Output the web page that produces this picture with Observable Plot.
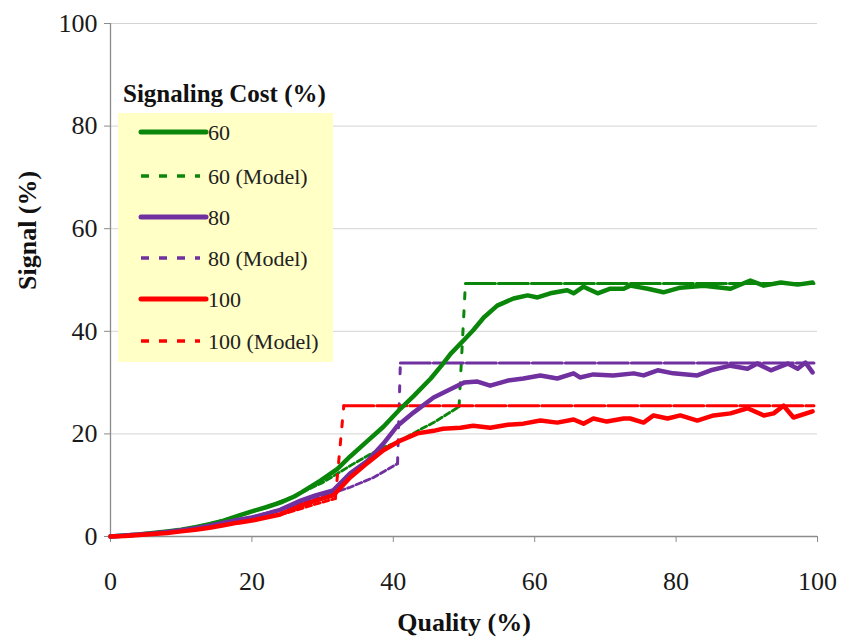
<!DOCTYPE html>
<html>
<head>
<meta charset="utf-8">
<script src="https://cdn.jsdelivr.net/npm/d3@7"></script>
<script src="https://cdn.jsdelivr.net/npm/@observablehq/plot@0.6"></script>
<style>
  html, body { margin: 0; padding: 0; background: #fff; }
  #wrap { position: relative; width: 843px; height: 638px; font-family: 'Liberation Serif', 'Times New Roman', serif; }
  #wrap svg text { font-family: 'Liberation Serif', 'Times New Roman', serif; }
  #legend { position: absolute; left: 0; top: 0; pointer-events: none; }
</style>
</head>
<body>
<div id="wrap"></div>
<script>
// ---- Data ----
const xTicks = [0, 20, 40, 60, 80, 100];
const yTicks = [0, 20, 40, 60, 80, 100];
const gridTicks = [20, 40, 60, 80, 100];

const seriesNames = ["60", "60 (Model)", "80", "80 (Model)", "100", "100 (Model)"];
const seriesColors = ["#0a870a", "#0a870a", "#7030a0", "#7030a0", "#ff0000", "#ff0000"];

// Signaling cost 60 (observed)
const obs60X = [0,2,4,6,8,10,12,14,16,18,20,22,24,26,27,29.7,32.1,33.9,36.4,38.6,41,42.9,45.3,47.1,48.1,50.2,51.3,52.8,54.7,57,59,60.4,62.2,64.6,65.5,66.9,68.9,70.7,72.6,73.5,76,78.2,80.6,83.9,87.7,90.5,92.4,94.8,97.2,99.3];
const obs60Y = [0,0.2,0.4,0.7,1.0,1.3,1.8,2.4,3.1,4.0,4.9,5.7,6.6,7.8,8.6,10.9,13.2,15.6,18.7,21.4,24.9,27.4,30.8,33.8,35.6,38.6,40.2,42.7,45,46.4,47,46.6,47.4,48,47.4,48.7,47.4,48.3,48.3,48.9,48.3,47.6,48.5,48.9,48.3,49.9,48.9,49.5,49.1,49.5];

// Signaling cost 80 (observed)
const obs80X = [0,2,4,6,8,10,12,14,16,18,20,22,24,26.9,29,31.5,33.9,36.4,38.6,40.6,42.9,45.7,48.5,50,51.9,53.7,56.2,58.4,60.8,63.2,65.5,66.4,68.3,71.1,74,75.4,77.4,79.6,83,84.9,87.7,90.1,91.5,93.4,95.8,97.2,98.3,99.3];
const obs80Y = [0,0.2,0.4,0.6,0.9,1.2,1.6,2.1,2.7,3.2,3.7,4.4,5.2,7,8,9,12.3,14.8,18.1,21.6,24.2,27.1,29,30,30.2,29.4,30.4,30.8,31.4,30.8,31.8,31,31.6,31.4,31.8,31.4,32.4,31.8,31.4,32.4,33.3,32.7,33.7,32.4,33.7,32.7,33.9,32];

// Signaling cost 100 (observed)
const obs100X = [0,2,4,6,8,10,12,14,16,18,20,22,24,26.9,29,31.5,33.9,36.4,38.6,41,43.4,45.7,47,49.5,51.3,53.7,56.2,58.4,60.8,63.2,65.5,66.9,68.3,70.2,72.6,73.5,75.4,76.8,78.8,80.6,83,85.3,87.7,90.1,92.4,93.8,95.2,96.6,99.3];
const obs100Y = [0,0.1,0.3,0.5,0.7,1.0,1.3,1.7,2.2,2.7,3.1,3.7,4.3,6,7,8,11.5,14.4,16.8,18.7,20.1,20.6,21,21.2,21.6,21.2,21.8,22,22.6,22.2,22.8,22,23,22.4,23,23,22.2,23.6,23,23.6,22.6,23.6,24,25,23.6,24,25.5,23.2,24.4];

// Models: rising part, then a jump to a constant level
const mod60X = [0,5,10,15,20,25,30,34.4,38,41,44,45.7,49.3];
const mod60Y = [0,0.5,1.3,2.8,4.8,7.3,10.5,14.2,17,18.7,21,22.2,25.3];
const mod60Jump = 50.2, mod60Level = 49.3;

const mod80X = [0,5,10,15,20,25,30,33.9,37.2,40.6];
const mod80Y = [0,0.5,1.2,2.4,3.8,5.6,7.8,9.6,11.5,14.2];
const mod80Jump = 41, mod80Level = 33.8;

const mod100X = [0,5,10,15,20,25,29,31.8];
const mod100Y = [0,0.4,1.0,2.0,3.1,4.6,6.3,7.4];
const mod100Jump = 33, mod100Level = 25.5;

const modelEnd = 99.5;

// ---- Build tables ----
const toPts = (xs, ys) => xs.map((x, i) => ({x, y: ys[i]}));
const observed = [
  {pts: toPts(obs60X, obs60Y), color: seriesColors[0]},
  {pts: toPts(obs80X, obs80Y), color: seriesColors[2]},
  {pts: toPts(obs100X, obs100Y), color: seriesColors[4]}
];
const models = [
  {xs: mod60X, ys: mod60Y, jump: mod60Jump, level: mod60Level, color: seriesColors[1]},
  {xs: mod80X, ys: mod80Y, jump: mod80Jump, level: mod80Level, color: seriesColors[3]},
  {xs: mod100X, ys: mod100Y, jump: mod100Jump, level: mod100Level, color: seriesColors[5]}
];

const FONT = "'Liberation Serif', 'Times New Roman', serif";

const marks = [
  Plot.gridY(gridTicks, {stroke: "#d4d4d4", strokeOpacity: 1, strokeWidth: 1}),
  Plot.axisX(xTicks, {tickSize: 6, tickPadding: 29, stroke: "#8c8c8c", fill: "#1a1a1a", fontSize: 26, label: null}),
  Plot.axisY(yTicks, {tickSize: 6, tickPadding: 7, stroke: "#8c8c8c", fill: "#1a1a1a", fontSize: 26, label: null}),
  Plot.ruleX([0], {stroke: "#8c8c8c", strokeWidth: 1.3}),
  Plot.ruleY([0], {stroke: "#8c8c8c", strokeWidth: 1.3})
];

for (const m of models) {
  const rise = toPts(m.xs, m.ys);
  const last = rise[rise.length - 1];
  marks.push(Plot.line(rise, {x: "x", y: "y", stroke: m.color, strokeWidth: 2.8, strokeDasharray: "6,3"}));
  marks.push(Plot.line([last, {x: m.jump, y: m.level}], {x: "x", y: "y", stroke: m.color, strokeWidth: 3, strokeDasharray: "6,12"}));
  marks.push(Plot.line([{x: m.jump, y: m.level}, {x: modelEnd, y: m.level}], {x: "x", y: "y", stroke: m.color, strokeWidth: 3, strokeDasharray: "30,3"}));
}
for (const s of observed) {
  marks.push(Plot.line(s.pts, {x: "x", y: "y", stroke: s.color, strokeWidth: 4.5, strokeLinejoin: "round", strokeLinecap: "round"}));
}

marks.push(Plot.text(["Quality (%)"], {text: d => d, frameAnchor: "bottom", dy: 94, fontSize: 26, fontWeight: "bold", fill: "#111"}));
marks.push(Plot.text(["Signal (%)"], {text: d => d, frameAnchor: "left", dx: -83, dy: 10, rotate: -90, fontSize: 26, fontWeight: "bold", fill: "#111"}));

const chart = Plot.plot({
  width: 843,
  height: 638,
  marginLeft: 110,
  marginRight: 26,
  marginTop: 23,
  marginBottom: 102,
  style: {fontFamily: FONT, background: "#fff", overflow: "visible"},
  x: {domain: [0, 100], axis: null},
  y: {domain: [0, 100], axis: null},
  marks
});
document.getElementById("wrap").appendChild(chart);

// ---- Legend overlay ----
const legendRowsY = [132, 176, 217, 258, 299, 341];
const ns = "http://www.w3.org/2000/svg";
const lg = document.createElementNS(ns, "svg");
lg.setAttribute("id", "legend");
lg.setAttribute("width", 843);
lg.setAttribute("height", 638);
const el = (tag, attrs, text) => {
  const e = document.createElementNS(ns, tag);
  for (const k in attrs) e.setAttribute(k, attrs[k]);
  if (text != null) e.textContent = text;
  lg.appendChild(e);
  return e;
};
el("rect", {x: 118, y: 113, width: 215, height: 249, fill: "#ffffc6"});
el("text", {x: 123, y: 102, "font-size": 25, "font-weight": "bold", fill: "#111"}, "Signaling Cost (%)");
seriesNames.forEach((name, i) => {
  const y = legendRowsY[i];
  const dashed = name.includes("Model");
  el("line", {x1: 141, x2: dashed ? 200 : 206, y1: y, y2: y, stroke: seriesColors[i],
    "stroke-width": dashed ? 3.5 : 5, "stroke-dasharray": dashed ? "8,10" : "none",
    "stroke-linecap": dashed ? "butt" : "round"});
  el("text", {x: 208, y: y, "dominant-baseline": "central", "font-size": 22, fill: "#222"}, name);
});
document.getElementById("wrap").appendChild(lg);
</script>
</body>
</html>
